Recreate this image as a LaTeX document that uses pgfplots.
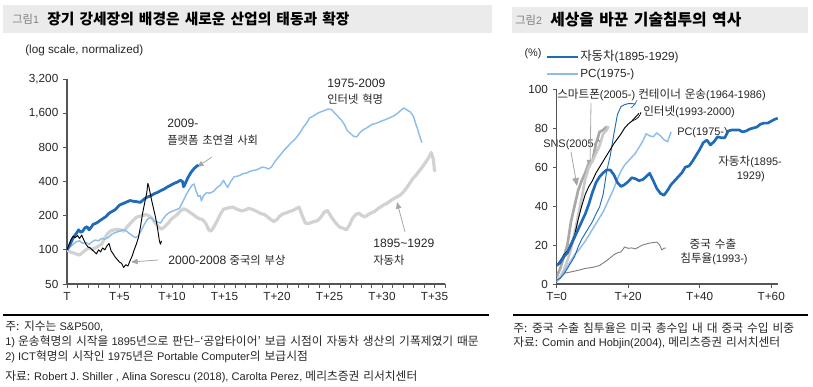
\documentclass[border=0pt]{standalone}
\usepackage{fontspec}
\setmainfont{Liberation Sans}
\newfontfamily\krf{Noto Sans CJK KR}[Scale=1.06,WordSpace=1.5]
\newcommand{\K}[1]{{\krf #1}}
\usepackage{pgfplots}
\pgfplotsset{compat=1.18}
\usetikzlibrary{arrows.meta}
\definecolor{dblue}{HTML}{1F6BB8}
\definecolor{lblue}{HTML}{8DBDEA}
\definecolor{lgray}{HTML}{D2D2D2}
\definecolor{mgray}{HTML}{A8A8A8}
\definecolor{sgray}{HTML}{C8C8C8}
\definecolor{cgray}{HTML}{7F7F7F}
\definecolor{barbg}{HTML}{EBEBEB}
\definecolor{axgray}{HTML}{555555}
\definecolor{txt}{HTML}{262626}
\definecolor{arrgray}{HTML}{A6A6A6}
\newcommand{\tk}{\fontsize{8.8}{10}\selectfont}
\newcommand{\anl}{\fontsize{9.1}{10}\selectfont}
\newcommand{\anr}{\fontsize{8.2}{10}\selectfont}
\newcommand{\nt}{\fontsize{8.3}{10}\selectfont}
\begin{document}
\begin{tikzpicture}
\begin{scope}[x=0.75pt,y=-0.75pt]
\path[use as bounding box] (0,0) rectangle (813,386);
\fill[barbg] (3,5) rectangle (492,33);
\fill[barbg] (512,7) rectangle (808,33);
\node[anchor=west,text=gray,inner sep=0] at (12,19) {\fontsize{8}{10}\selectfont\K{그림}1};
\node[anchor=west,text=black,inner sep=0] at (47,19) {\fontsize{10.45}{13}\selectfont\bfseries\K{장기 강세장의 배경은 새로운 산업의 태동과 확장}};
\node[anchor=west,text=gray,inner sep=0] at (515,20) {\fontsize{8}{10}\selectfont\K{그림}2};
\node[anchor=west,text=black,inner sep=0] at (550,20) {\fontsize{11.2}{13}\selectfont\bfseries\K{세상을 바꾼 기술침투의 역사}};
% left annotations
\node[anchor=west,text=txt,inner sep=0] at (25,50) {\tk (log scale, normalized)};
\node[anchor=west,text=txt,inner sep=0] at (167,123) {\anl 2009-};
\node[anchor=west,text=txt,inner sep=0] at (167,140) {\fontsize{8}{10}\selectfont\K{플랫폼 초연결 사회}};
\node[anchor=west,text=txt,inner sep=0] at (327,83) {\anl 1975-2009};
\node[anchor=west,text=txt,inner sep=0] at (327,99) {\fontsize{8}{10}\selectfont\K{인터넷 혁명}};
\node[anchor=west,text=txt,inner sep=0] at (373,243) {\anl 1895\textasciitilde1929};
\node[anchor=west,text=txt,inner sep=0] at (373,260) {\fontsize{8}{10}\selectfont\K{자동차}};
\node[anchor=west,text=txt,inner sep=0] at (168,260) {\anl 2000-2008 {\fontsize{8}{10}\selectfont\K{중국의 부상}}};
\draw[arrgray,line width=0.6pt,-{Triangle[length=5pt,width=4pt]}] (212,157) -- (197,167);
\draw[arrgray,line width=0.6pt,-{Triangle[length=5pt,width=4pt]}] (158,260) -- (131,262);
\draw[arrgray,line width=0.6pt,-{Triangle[length=5pt,width=4pt]}] (405,232) -- (397,202);
% right annotations
\node[anchor=center,text=txt,inner sep=0] at (533,54) {\anr (\%)};
\draw[dblue,line width=2pt] (547,57) -- (578,57);
\node[anchor=west,text=txt,inner sep=0] at (580,57) {\fontsize{8.8}{10}\selectfont\K{자동차}(1895-1929)};
\draw[lblue,line width=1.1pt] (547,74) -- (578,74);
\node[anchor=west,text=txt,inner sep=0] at (580,74) {\fontsize{8.8}{10}\selectfont PC(1975-)};
\node[anchor=west,text=txt,inner sep=0] at (557,95) {\anr\K{스마트폰}(2005-)};
\node[anchor=west,text=txt,inner sep=0] at (638,95) {\anr\K{컨테이너 운송}(1964-1986)};
\node[anchor=west,text=txt,inner sep=0] at (643,112) {\anr\K{인터넷}(1993-2000)};
\node[anchor=west,text=txt,inner sep=0] at (677,133) {\anr PC(1975-)};
\node[anchor=west,text=txt,inner sep=0] at (543,145) {\anr SNS(2005-)};
\node[anchor=west,text=txt,inner sep=0] at (718,162) {\anr\K{자동차}(1895-};
\node[anchor=east,text=txt,inner sep=0] at (765,177) {\anr 1929)};
\node[anchor=center,text=txt,inner sep=0] at (713,244) {\anr\K{중국 수출}};
\node[anchor=center,text=txt,inner sep=0] at (714,259) {\anr\K{침투율}(1993-)};
\draw[arrgray,line width=0.6pt,-{Triangle[length=6pt,width=5pt]}] (591,103) -- (590,168);
\draw[arrgray,line width=0.6pt,-{Triangle[length=6pt,width=5pt]}] (571,152) -- (577,186);
\draw[black,line width=0.5pt] (632,121) .. controls (638,119) and (640,116) .. (641,112);
\draw[dblue,line width=0.5pt] (631,108) .. controls (634,106) and (636,103) .. (637,100);
% rules and notes
\draw[black,line width=0.8pt] (3,315) -- (489,315);
\draw[black,line width=0.8pt] (513,315) -- (808,315);
\node[anchor=west,text=txt,inner sep=0] at (5,326) {\nt\K{주: 지수는} S\&P500,};
\node[anchor=west,text=txt,inner sep=0] at (5,342) {\nt 1) \K{운송혁명의 시작을} 1895\K{년으로 판단–‘공압타이어’ 보급 시점이 자동차 생산의 기폭제였기 때문}};
\node[anchor=west,text=txt,inner sep=0] at (5,357) {\nt 2) ICT\K{혁명의 시작인} 1975\K{년은} Portable Computer\K{의 보급시점}};
\node[anchor=west,text=txt,inner sep=0] at (5,377) {\nt\K{자료:} Robert J. Shiller , Alina Sorescu (2018), Carolta Perez, \K{메리츠증권 리서치센터}};
\node[anchor=west,text=txt,inner sep=0] at (513,328) {\nt\K{주: 중국 수출 침투율은 미국 총수입 내 대 중국 수입 비중}};
\node[anchor=west,text=txt,inner sep=0] at (513,343) {\nt\K{자료:} Comin and Hobjin(2004), \K{메리츠증권 리서치센터}};
\end{scope}

% ---------- left axis ----------
\begin{axis}[at={(50.25pt,-213pt)}, anchor=south west, scale only axis,
  width=283.5pt, height=153.75pt,
  xmin=0, xmax=36, ymin=50, ymax=3200, ymode=log, log basis y=2,
  axis x line*=bottom, axis y line*=left,
  xtick={0,5,...,35}, xticklabels={T,T+5,T+10,T+15,T+20,T+25,T+30,T+35},
  minor xtick={1,...,36},
  ytick={50,100,200,400,800,1600,3200},
  yticklabels={50,100,200,400,800,{1,600},{3,200}},
  tick align=outside, major tick length=3pt, minor tick length=3pt,
  tick style={axgray,line width=0.6pt},
  axis line style={axgray,line width=0.8pt},
  tick label style={font=\tk, text=txt},
  /pgf/number format/assume math mode=true,
  every axis plot/.append style={line join=round}]
% 1895-1929 gray
\addplot[lgray,line width=2.4pt] coordinates {
(0,100)(0.3,96)(0.6,94)(0.9,92)(1.2,90)(1.5,95)(1.8,100)(2.1,104)(2.4,101)(2.7,104)(3.0,108)(3.3,112)(3.6,128)(3.9,140)(4.2,148)(4.5,150)(4.8,152)(5.1,150)(5.4,146)(5.7,158)(6.0,170)(6.3,182)(6.6,193)(6.9,198)(7.2,200)(7.5,205)(7.8,200)(8.1,190)(8.4,172)(8.7,160)(9.0,152)(9.3,160)(9.6,170)(9.9,185)(10.2,195)(10.5,205)(10.8,220)(11.1,230)(11.4,224)(11.7,214)(12.0,205)(12.3,195)(12.6,188)(12.9,185)(13.2,172)(13.5,150)(13.7,146)(14.0,160)(14.3,180)(14.6,205)(14.9,228)(15.2,232)(15.5,236)(15.8,238)(16.1,230)(16.4,224)(16.7,220)(17.0,225)(17.3,232)(17.6,228)(17.9,222)(18.2,215)(18.5,208)(18.8,205)(19.1,195)(19.4,185)(19.7,178)(20.0,185)(20.3,200)(20.6,208)(20.9,212)(21.2,218)(21.5,222)(21.8,230)(22.1,238)(22.4,200)(22.7,172)(23.0,170)(23.3,175)(23.6,178)(23.9,182)(24.2,195)(24.5,215)(24.8,222)(25.1,200)(25.4,182)(25.7,168)(26.0,158)(26.3,155)(26.6,150)(26.9,165)(27.2,190)(27.5,205)(27.8,210)(28.1,200)(28.4,195)(28.7,205)(29.0,212)(29.3,218)(29.6,230)(29.9,240)(30.2,250)(30.5,258)(30.8,270)(31.1,282)(31.4,292)(31.7,302)(32.0,320)(32.3,348)(32.6,380)(32.9,420)(33.2,450)(33.5,490)(33.8,530)(34.1,580)(34.4,640)(34.7,720)(34.9,620)(35.0,500)(35.1,510)};
% 1975-2009 light blue
\addplot[lblue,line width=1.1pt] coordinates {
(0,100)(0.3,106)(0.6,112)(0.9,118)(1.2,120)(1.5,114)(1.8,116)(2.1,112)(2.4,118)(2.7,122)(3.0,120)(3.3,126)(3.6,124)(4.0,130)(4.3,138)(4.6,142)(5.0,146)(5.3,150)(5.6,148)(5.9,140)(6.2,134)(6.5,128)(6.8,132)(7.1,150)(7.4,170)(7.7,188)(8.0,192)(8.3,180)(8.6,176)(8.9,172)(9.2,190)(9.5,205)(9.8,214)(10.1,220)(10.4,226)(10.7,232)(11.0,262)(11.3,300)(11.6,335)(11.9,370)(12.1,380)(12.3,330)(12.5,295)(12.7,300)(12.8,270)(13.0,300)(13.3,320)(13.6,315)(14.0,330)(14.3,355)(14.6,370)(14.9,410)(15.1,380)(15.3,355)(15.6,400)(15.9,440)(16.2,445)(16.5,455)(16.8,470)(17.1,475)(17.4,490)(17.7,500)(18.0,505)(18.3,520)(18.6,535)(18.9,530)(19.2,515)(19.5,540)(19.8,600)(20.1,650)(20.4,700)(20.7,760)(21.0,810)(21.3,870)(21.6,920)(21.9,990)(22.2,1080)(22.5,1200)(22.8,1300)(23.1,1450)(23.4,1500)(23.7,1560)(24.0,1620)(24.3,1660)(24.6,1700)(24.9,1740)(25.2,1720)(25.5,1600)(25.8,1500)(26.1,1400)(26.4,1280)(26.7,1120)(27.0,1060)(27.3,1000)(27.6,990)(27.9,1080)(28.2,1140)(28.5,1180)(28.8,1230)(29.1,1280)(29.4,1300)(29.7,1330)(30.0,1370)(30.3,1400)(30.6,1440)(30.9,1480)(31.2,1530)(31.5,1600)(31.8,1700)(32.1,1780)(32.4,1700)(32.7,1640)(33.0,1500)(33.2,1300)(33.4,1150)(33.6,1000)(33.8,880)};
% 2009- dark blue
\addplot[dblue,line width=2.1pt] coordinates {
(0,100)(0.3,112)(0.6,128)(0.9,140)(1.1,150)(1.3,143)(1.5,146)(1.7,156)(1.9,160)(2.1,150)(2.3,158)(2.5,168)(2.8,172)(3.1,180)(3.4,188)(3.7,196)(4.0,210)(4.3,218)(4.6,226)(5.0,248)(5.3,255)(5.6,262)(6.0,272)(6.3,268)(6.6,266)(7.0,262)(7.3,278)(7.6,290)(8.0,300)(8.3,312)(8.6,320)(9.0,335)(9.3,345)(9.6,360)(9.9,372)(10.2,385)(10.5,395)(10.8,410)(11.0,400)(11.1,360)(11.2,372)(11.5,430)(11.8,480)(12.1,520)(12.5,560)};
% 2000-2008 black
\addplot[black,line width=0.7pt] coordinates {
(0,100)(0.2,112)(0.4,124)(0.6,132)(0.8,128)(1.0,134)(1.2,126)(1.4,135)(1.6,122)(1.8,112)(2.0,106)(2.2,104)(2.4,100)(2.6,96)(2.8,92)(3.0,100)(3.2,96)(3.4,104)(3.6,100)(3.8,108)(4.0,114)(4.2,98)(4.4,92)(4.6,86)(4.8,82)(5.0,78)(5.2,76)(5.4,70)(5.6,74)(5.8,72)(6.0,80)(6.2,88)(6.4,100)(6.6,112)(6.8,128)(7.0,160)(7.2,210)(7.4,260)(7.6,320)(7.7,385)(7.8,360)(8.0,290)(8.2,240)(8.4,200)(8.6,160)(8.8,120)(8.9,112)(9.0,120)};
\end{axis}

% ---------- right axis ----------
\begin{axis}[at={(417.5pt,-213pt)}, anchor=south west, scale only axis,
  width=166.3pt, height=146.25pt,
  xmin=0, xmax=62, ymin=0, ymax=100,
  axis x line*=bottom, axis y line*=left,
  xtick={0,20,40,60}, xticklabels={T=0,T+20,T+40,T+60},
  ytick={0,20,...,100},
  tick align=outside, major tick length=3pt,
  tick style={axgray,line width=0.6pt},
  axis line style={axgray,line width=0.8pt},
  tick label style={font=\tk, text=txt},
  /pgf/number format/assume math mode=true,
  every axis plot/.append style={line join=round}]
% China export
\addplot[cgray,line width=0.7pt] coordinates {
(0,1.2)(1,3.5)(2,5.5)(4,6.2)(6,7)(8,8)(10,8.5)(12,9.5)(14,12)(16,15)(17,16)(18,16.5)(19,19)(20,18.3)(21,18.5)(22,18)(24,20)(26,21)(28,21.5)(28.8,20)(29.4,17.5)(30,18.3)(30.5,18.5)};
% SNS
\addplot[mgray,line width=2pt] coordinates {
(0,3.7)(1,8)(2,14)(3,20)(4,32)(5,40)(6,48)(7,53)(8,57)(9,62)(10,63)(11,72)(12,78)(13,79)(14,80.7)};
% Smartphone
\addplot[sgray,line width=2pt] coordinates {
(0,2)(1,3.5)(2,7)(3,12)(4,18)(5,26)(6,35)(7,44)(8,54)(9,60)(10,63)(11,67)(12,71)(13,77)(14,79)(14.5,81)};
% PC
\addplot[lblue,line width=1.1pt] coordinates {
(0,1)(1,3)(2,6)(3,9)(4,12)(5,15)(6,17)(7,19.5)(8,22)(9,25)(10,28)(11,31)(12,34)(13,37)(14,41)(15,45)(16,49)(17,54)(18,58)(19,61)(20,63)(21,65)(22,67)(23,70)(24,73)(25,77)(26,76)(27,75.5)(28,77.5)(29,76)(30,74)(31,73)(32,78)};
% Container
\addplot[dblue,line width=0.7pt] coordinates {
(0,2)(1,3)(2,5)(3,8)(4,11)(5,14)(6,19)(7,23)(8,26)(9,29)(10,32)(11,36)(12,39.5)(13,46)(14,58)(15,66)(16,77)(17,87)(18,91)(19,92)(20,92.5)(21,92.5)(22,92.3)};
% Internet
\addplot[black,line width=0.7pt] coordinates {
(0,9.7)(1,12)(2,15)(3,17)(4,21)(5,25)(6,33)(7,40)(8,46)(9,50)(10,53)(11,57)(12,60)(13,63)(14,66)(15,69)(16,72)(17,74.5)(18,77)(19,80)(20,82)(21,83.5)(22,85.5)(23,87.5)};
% Automobile
\addplot[dblue,line width=2pt] coordinates {
(0,9.5)(1,11)(2,14)(3,16)(4,20)(5,24)(6,28)(7,32)(8,36)(9,41)(10,47)(11,52)(12,55)(13,57)(14,58.5)(15,58.5)(16,56)(17,52)(18,50)(19,51)(20,52.5)(21,54.5)(22,54)(23,53)(24,53.5)(25,55)(26,56.8)(27,53)(28,49)(29,46.5)(30,45.5)(31,48)(32,51)(33,53)(34,55)(35,57)(36,60)(37,60.5)(38,63)(39,66)(40,69)(41,72.5)(42,73.8)(43,71.3)(44,73)(45,75.5)(46,75)(47,75)(48,78.5)(49,79)(50,79)(51,79)(52,78)(53,78.5)(54,79.5)(55,80)(56,80.5)(57,82)(58,82.5)(59,82.5)(60,83.5)(61,84.5)(61.8,85)};
\end{axis}
\end{tikzpicture}
\end{document}
